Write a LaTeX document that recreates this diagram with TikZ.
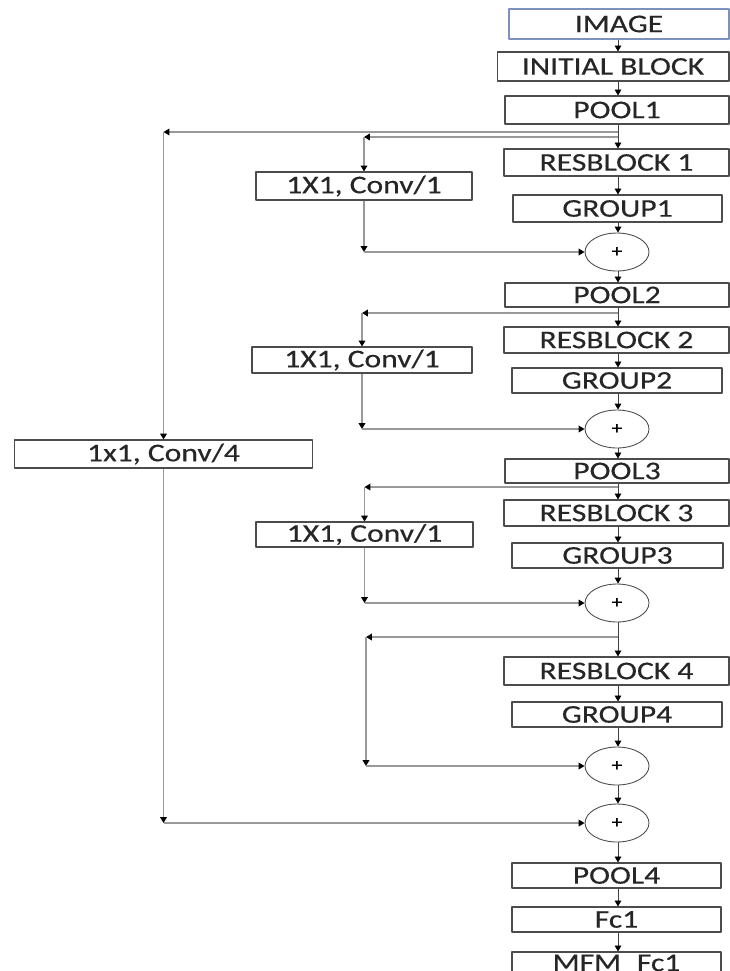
\documentclass[tikz,border=0pt]{standalone}
\usepackage{fontspec}
\setmainfont{Carlito}[FakeStretch=1.24,FakeBold=0.4]
\usetikzlibrary{arrows.meta,shapes.geometric}
\definecolor{imgedge}{RGB}{125,145,190}
\begin{document}
\begin{tikzpicture}[x=0.02cm,y=-0.02cm,>={Triangle[length=3.4pt,width=3.8pt,color=black]}, line join=round]
	\colorlet{box edge}{black!70}
	\colorlet{link}{black!40}
	\tikzset{blk/.style={draw=box edge, line width=0.6pt, fill=white, text=black!85, inner sep=0pt, minimum height=0.52cm, font=\fontsize{14.5}{16}\selectfont},
	add/.style={ellipse, draw=box edge, line width=0.5pt, fill=white, minimum width=1.28cm, minimum height=0.76cm, inner sep=0pt, font=\fontsize{10}{12}\selectfont},
	flow/.style={->, draw=black!75, line width=0.5pt},
	side/.style={->, draw=link, line width=0.8pt}}
	\useasboundingbox (0,0) rectangle (730,971);
	\clip (0,0) rectangle (730,971);
	\coordinate (spine) at (618,0);
	% main column
	\node[blk, draw=imgedge, minimum width=4.4cm, minimum height=0.6cm] (img) at (619,24) {IMAGE};
	\node[blk, minimum width=4.64cm, minimum height=0.58cm] (init) at (613,66.5) {INITIAL BLOCK};
	\node[blk, minimum width=4.48cm, minimum height=0.56cm] (pool1) at (617,110) {POOL1};
	\node[blk, minimum width=4.5cm, minimum height=0.54cm] (res1) at (616.5,162.5) {RESBLOCK 1};
	\node[blk, minimum width=4.18cm, minimum height=0.54cm] (grp1) at (617.5,208.5) {GROUP1};
	\node[add] (plus1) at (617,252) {+};
	\node[blk, minimum width=4.48cm, minimum height=0.48cm] (pool2) at (617,295) {POOL2};
	\node[blk, minimum width=4.5cm] (res2) at (616.5,340) {RESBLOCK 2};
	\node[blk, minimum width=4.2cm, minimum height=0.5cm] (grp2) at (617,380.5) {GROUP2};
	\node[add] (plus2) at (617,429) {+};
	\node[blk, minimum width=4.48cm, minimum height=0.48cm] (pool3) at (617,471) {POOL3};
	\node[blk, minimum width=4.5cm] (res3) at (616.5,513) {RESBLOCK 3};
	\node[blk, minimum width=4.22cm, minimum height=0.5cm] (grp3) at (617.5,555.5) {GROUP3};
	\node[add] (plus3) at (617,603) {+};
	\node[blk, minimum width=4.5cm, minimum height=0.56cm] (res4) at (616.5,671) {RESBLOCK 4};
	\node[blk, minimum width=4.2cm, minimum height=0.5cm] (grp4) at (617,714.5) {GROUP4};
	\node[add] (plus4) at (617,766) {+};
	\node[add] (plus5) at (617,823) {+};
	\node[blk, minimum width=4.18cm, minimum height=0.5cm] (pool4) at (616.5,875.5) {POOL4};
	\node[blk, minimum width=4.18cm, minimum height=0.5cm] (fc) at (616.5,919.5) {Fc1};
	\node[blk, minimum width=4.18cm, minimum height=0.5cm] (mfm) at (616.5,964.5) {MFM\_Fc1};
	% side boxes
	\node[blk, minimum width=4.32cm, minimum height=0.56cm] (conva) at (364,186) {1X1, Conv/1};
	\node[blk, minimum width=4.4cm] (convb) at (362,360) {1X1, Conv/1};
	\node[blk, minimum width=4.34cm, minimum height=0.5cm] (convc) at (364.5,534.5) {1X1, Conv/1};
	\node[blk, minimum width=5.98cm, minimum height=0.56cm] (convd) at (163.5,454) {1x1, Conv/4};
	% spine
	\foreach \a/\b in {img/init, init/pool1, pool1/res1, res1/grp1, grp1/plus1, plus1/pool2,
		pool2/res2, res2/grp2, grp2/plus2, plus2/pool3, pool3/res3, res3/grp3, grp3/plus3,
		plus3/res4, res4/grp4, grp4/plus4, plus4/plus5, plus5/pool4, pool4/fc, fc/mfm}
		\draw[flow] (\a.south -| spine) -- (\b.north -| spine);
	% long skip
	\coordinate (ba) at (618,132);
	\draw[side] (ba) -- (convd.north |- ba);
	\draw[side] (convd.north |- ba) -- (convd.north);
	\draw[side] (convd.south) -- (convd.south |- plus5);
	\draw[side] (convd.south |- plus5) -- (plus5.west);
	% short skips
	\foreach \c/\p/\y in {conva/plus1/137, convb/plus2/313, convc/plus3/487}{
		\coordinate (b\c) at (618,\y);
		\draw[side] (b\c) -- (\c.north |- b\c);
		\draw[side] (\c.north |- b\c) -- (\c.north);
		\draw[side] (\c.south) -- (\c.south |- \p);
		\draw[side] (\c.south |- \p) -- (\p.west);
	}
	\coordinate (bd) at (618,637);
	\coordinate (td) at (366,637);
	\draw[side] (bd) -- (td);
	\draw[side] (td) -- (td |- plus4);
	\draw[side] (td |- plus4) -- (plus4.west);
\end{tikzpicture}
\end{document}
